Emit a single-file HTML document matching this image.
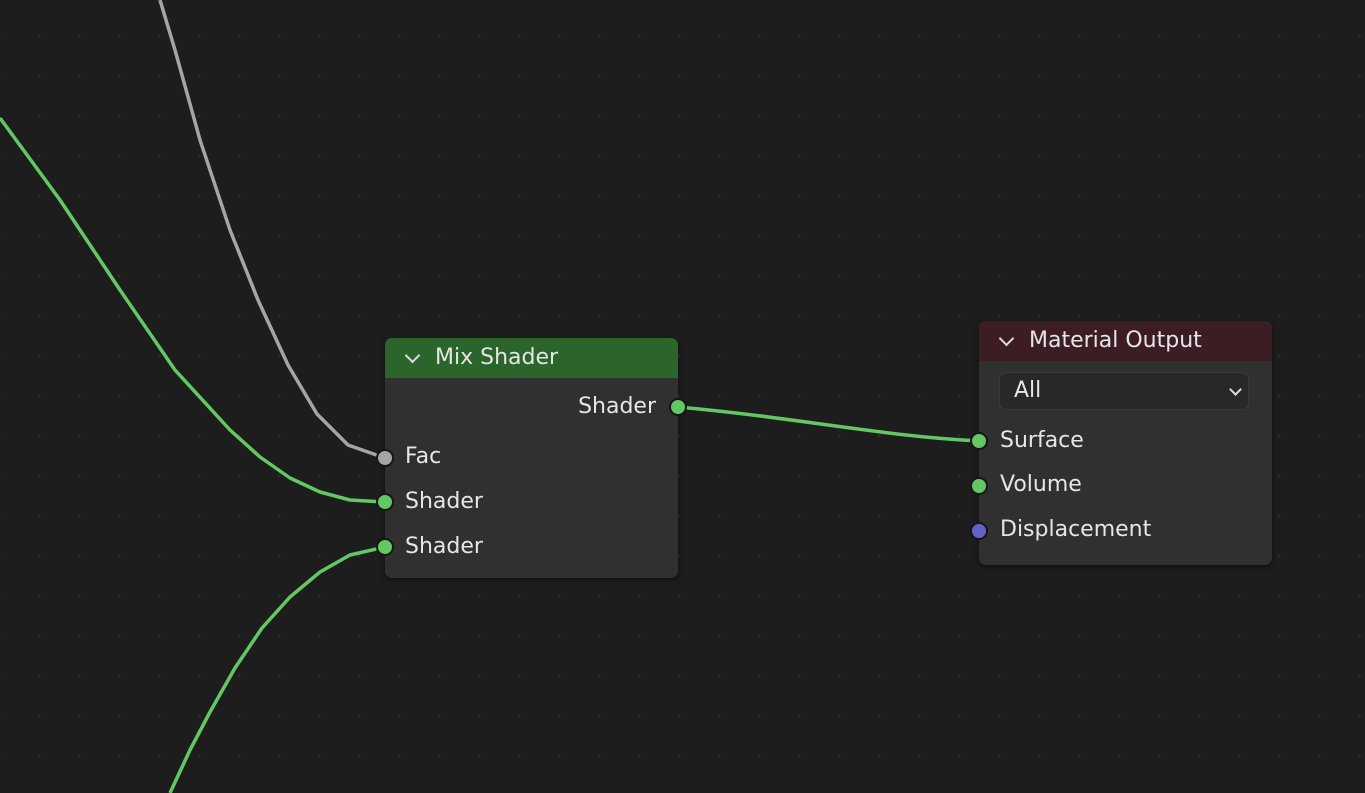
<!DOCTYPE html>
<html><head><style>
body{margin:0;width:1365px;height:793px;overflow:hidden;background:#1d1d1d;font-family:"DejaVu Sans","Liberation Sans",sans-serif;position:relative}
.dots{position:absolute;inset:0;background-image:radial-gradient(circle,#2c2c2c 1.5px,transparent 1.6px);background-size:40px 40px;background-position:19px 16px}
.node{position:absolute;background:#303030;border-radius:7px;box-shadow:0 2px 6px rgba(0,0,0,.5);overflow:hidden}
.hdr{height:40px;color:#e6e6e6;font-size:22px;line-height:40px;padding-left:50px;position:relative}
.hdr:before{content:"";position:absolute;left:22px;top:12px;width:9px;height:9px;border-right:2px solid #ddd;border-bottom:2px solid #ddd;transform:rotate(45deg)}
.t{position:absolute;color:#e6e6e6;font-size:22px}
svg{position:absolute;left:0;top:0}
</style></head><body>
<div class="dots"></div>
<svg width="1365" height="793">
<g fill="none" stroke-width="3.5" stroke-linejoin="round">
<polyline stroke="#a5a5a5" points="160,0 175,50 200,140 230,230 258,300 288,365 317,414 348,445 385,458"/>
<polyline stroke="#63c763" points="0,118 60,200 120,290 175,370 230,430 260,457 290,478 320,492 350,500 385,502"/>
<polyline stroke="#63c763" points="385,547 350,555 320,572 290,597 262,628 235,668 210,712 190,750 170,793"/>
<path stroke="#63c763" d="M678,407 C800,418 880,436 979,441"/>
</g>
</svg>
<div class="node" style="left:385px;top:338px;width:293px;height:240px">
<div class="hdr" style="background:#2b652b">Mix Shader</div>
<div class="t" style="right:22px;top:56px">Shader</div>
<div class="t" style="left:20px;top:106px">Fac</div>
<div class="t" style="left:20px;top:151px">Shader</div>
<div class="t" style="left:20px;top:196px">Shader</div>
</div>
<div class="node" style="left:979px;top:321px;width:293px;height:244px">
<div class="hdr" style="background:#3d1d24">Material Output</div>
<div style="position:absolute;left:20px;top:51px;width:250px;height:38px;background:#282828;border:1px solid #3a3a3a;border-radius:7px;box-sizing:border-box"></div>
<div class="t" style="left:35px;top:57px">All</div>
<div style="position:absolute;left:252px;top:64px;width:7px;height:7px;border-right:2px solid #ddd;border-bottom:2px solid #ddd;transform:rotate(45deg)"></div>
<div class="t" style="left:21px;top:107px">Surface</div>
<div class="t" style="left:21px;top:151px">Volume</div>
<div class="t" style="left:21px;top:196px">Displacement</div>
</div>
<svg width="1365" height="793">
<g stroke="#161616" stroke-width="2">
<circle cx="678" cy="407" r="8" fill="#63c763"/>
<circle cx="385" cy="458" r="8" fill="#a5a5a5"/>
<circle cx="385" cy="502" r="8" fill="#63c763"/>
<circle cx="385" cy="547" r="8" fill="#63c763"/>
<circle cx="979" cy="441" r="8" fill="#63c763"/>
<circle cx="979" cy="486" r="8" fill="#63c763"/>
<circle cx="979" cy="531" r="8" fill="#6363c7"/>
</g>
</svg>
</body></html>
